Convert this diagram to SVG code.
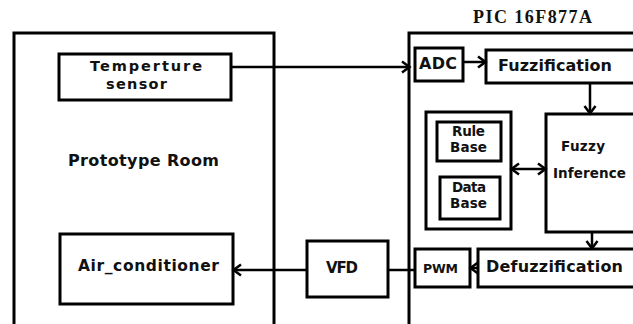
<svg xmlns="http://www.w3.org/2000/svg" width="633" height="324" viewBox="0 0 633 324">
<defs>
<style>
.box{fill:#fff;stroke:#000;stroke-width:3}
.cn{fill:none;stroke:#000;stroke-width:2.5}
.t{font-family:"DejaVu Sans",Verdana,sans-serif;font-weight:bold;fill:#111}
.s{font-family:"Liberation Serif","Times New Roman",serif;font-weight:bold;fill:#111}
</style>
<marker id="ah" markerUnits="userSpaceOnUse" markerWidth="12" markerHeight="14" refX="9" refY="7" orient="auto-start-reverse" viewBox="0 0 12 14">
<path d="M2,1.5 L9.5,7 L2,12.5" fill="none" stroke="#000" stroke-width="2.5"/>
</marker>
</defs>
<rect width="633" height="324" fill="#fff"/>
<g id="room">
<rect class="box" x="14" y="33" width="260" height="310"/>
<text class="t" x="68" y="166" font-size="16" textLength="151">Prototype Room</text>
</g>
<g id="pic">
<rect class="box" x="409" y="33" width="240" height="310"/>
<text class="s" x="473" y="23" font-size="18" textLength="119">PIC 16F877A</text>
</g>
<g id="sensor">
<rect class="box" x="59" y="54" width="172" height="46"/>
<text class="t" x="90" y="71" font-size="14.5" textLength="112">Temperture</text>
<text class="t" x="106" y="89" font-size="14.5" textLength="61">sensor</text>
</g>
<g id="aircon">
<rect class="box" x="60" y="234" width="173" height="70"/>
<text class="t" x="78" y="271" font-size="15.5" textLength="141">Air_conditioner</text>
</g>
<g id="adc">
<rect class="box" x="415" y="48" width="48" height="33"/>
<text class="t" x="419" y="69" font-size="16" textLength="38">ADC</text>
</g>
<g id="fuzzification">
<rect class="box" x="486" y="50" width="160" height="33"/>
<text class="t" x="498" y="71" font-size="16" textLength="114">Fuzzification</text>
</g>
<g id="kb">
<rect class="box" x="426" y="112" width="85" height="117"/>
</g>
<g id="rulebase">
<rect class="box" x="437" y="122" width="64" height="39"/>
<text class="t" x="452" y="136" font-size="13.5" textLength="33">Rule</text>
<text class="t" x="450" y="152" font-size="13.5" textLength="37">Base</text>
</g>
<g id="database">
<rect class="box" x="440" y="177" width="60" height="42"/>
<text class="t" x="452" y="192" font-size="13.5" textLength="34">Data</text>
<text class="t" x="450" y="208" font-size="13.5" textLength="37">Base</text>
</g>
<g id="inference">
<rect class="box" x="546" y="114" width="100" height="118"/>
<text class="t" x="561" y="151" font-size="13.5" textLength="44">Fuzzy</text>
<text class="t" x="553" y="178" font-size="13.5" textLength="73">Inference</text>
</g>
<g id="defuzzification">
<rect class="box" x="478" y="249" width="168" height="38"/>
<text class="t" x="486" y="272" font-size="16" textLength="137">Defuzzification</text>
</g>
<g id="pwm">
<rect class="box" x="415" y="249" width="55" height="38"/>
<text class="t" x="423" y="273" font-size="12.5" textLength="35">PWM</text>
</g>
<g id="vfd">
<rect class="box" x="307" y="241" width="81" height="56"/>
<text class="t" x="326" y="273" font-size="15" textLength="32">VFD</text>
</g>
<g id="connectors">
<line class="cn" x1="231" y1="67" x2="409" y2="67" marker-end="url(#ah)"/>
<line class="cn" x1="463" y1="62" x2="485" y2="62" marker-end="url(#ah)"/>
<line class="cn" x1="590" y1="83" x2="590" y2="113" marker-end="url(#ah)"/>
<line class="cn" x1="512" y1="169" x2="545" y2="169" marker-start="url(#ah)" marker-end="url(#ah)"/>
<line class="cn" x1="592" y1="232" x2="592" y2="248" marker-end="url(#ah)"/>
<line class="cn" x1="478" y1="268" x2="471" y2="268" marker-end="url(#ah)"/>
<line class="cn" x1="388" y1="270" x2="415" y2="270"/>
<line class="cn" x1="307" y1="270" x2="234" y2="270" marker-end="url(#ah)"/>
</g>
</svg>
